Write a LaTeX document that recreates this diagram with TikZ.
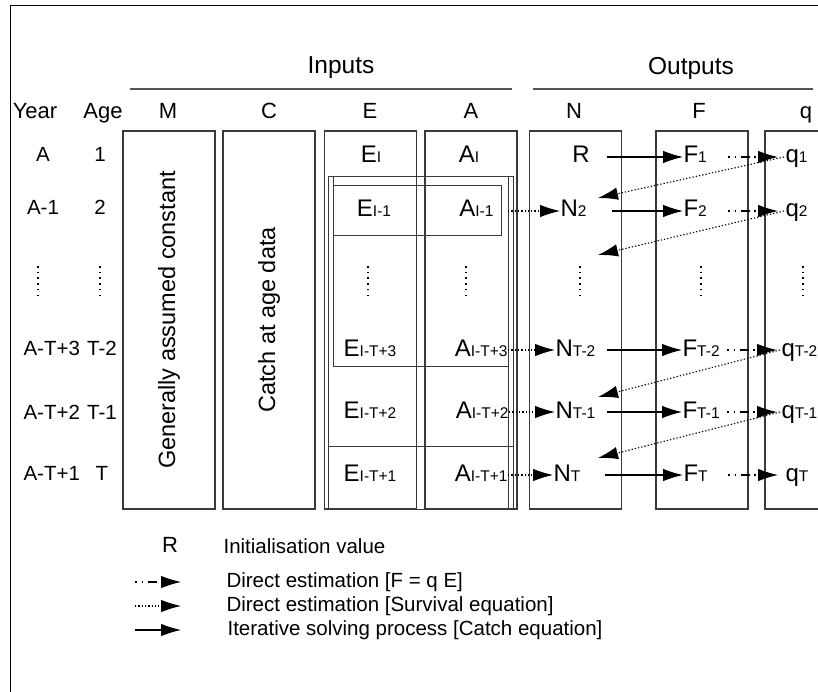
\documentclass[tikz,border=0pt]{standalone}
\usepackage{fontspec}
\setmainfont{Liberation Sans}
\usetikzlibrary{
  calc,
  positioning,
  arrows.meta
}
\tikzset{>={Latex[length=20pt,width=12.5pt]}}
\definecolor{boxgray}{HTML}{3A3A3A}
\definecolor{rulegray}{HTML}{555555}
\newcommand{\sub}[1]{{\fontsize{15.5}{15.5}\selectfont #1}}

\begin{document}
\begin{tikzpicture}[x=1pt, y=-1pt, line width=1.1pt,
  colbox/.style = {rectangle, draw=boxgray, minimum width=92pt, minimum height=378pt, inner sep=0pt},
  title/.style = {font=\fontsize{24.5}{24.5}\selectfont, inner sep=0pt},
  head/.style = {font=\fontsize{22}{22}\selectfont, inner sep=0pt, text height=16pt, text depth=4pt},
  rowlab/.style = {font=\fontsize{20.5}{20.5}\selectfont, inner sep=0pt, text height=15pt, text depth=4pt},
  cell/.style = {font=\fontsize{24}{24}\selectfont, inner sep=0pt, text height=17pt, text depth=5pt},
  ncell/.style = {cell, anchor=west, text width=51pt, align=left},
  fcell/.style = {cell, anchor=west, text width=44pt, align=left},
  qcell/.style = {cell, anchor=west, inner xsep=7pt},
  keytext/.style = {font=\fontsize{20.5}{20.5}\selectfont, inner sep=0pt, anchor=west, text height=15pt, text depth=4pt},
  frame/.style = {draw=boxgray, line width=1pt},
  solve/.style = {->, line width=1.1pt},
  survival/.style = {->, line width=1.1pt, dash pattern=on 1.3pt off 2pt},
  fqest/.style = {->, line width=1.1pt, dash pattern=on 1.5pt off 5pt on 1.5pt off 5pt on 9pt off 4pt},
  vdotsline/.style = {line width=1.6pt, dash pattern=on 1.6pt off 4.1pt}]
        \useasboundingbox (0,0) rectangle (818,692);
        \draw[line width=1pt] (10.5,692) -- (10.5,5.5) -- (818,5.5);

        % titles
        \node[title] (inputs) at (341,68) {Inputs};
        \node[title] (outputs) at (691,68) {Outputs};
        \draw[rulegray] (130,89) -- (512,89);
        \draw[rulegray] (533,89) -- (813,89);

        % column heads
        \node[head] (year_head) at (35,113) {Year};
        \node[head] (age_head) at (103,113) {Age};
        \node[head] (m_head) at (168,113) {M};
        \node[head] (c_head) at (269,113) {C};
        \node[head] (e_head) at (370,113) {E};
        \node[head] (a_head) at (471,113) {A};
        \node[head] (n_head) at (574,113) {N};
        \node[head] (f_head) at (699,113) {F};
        \node[head] (q_head) at (806,113) {q};

        % columns
        \node[colbox] (m_box) at (169,320) {};
        \node[colbox] (c_box) at (269,320) {};
        \node[colbox] (e_box) at (370.5,320) {};
        \node[colbox] (a_box) at (471,320) {};
        \node[colbox] (n_box) at (575.5,320) {};
        \node[colbox] (f_box) at (702,320) {};
        \node[colbox] (q_box) at (811,320) {};
        \node[title, font=\fontsize{23.5}{23.5}\selectfont, rotate=90] (m_text) at (m_box) {Generally assumed constant};
        \node[title, font=\fontsize{23.5}{23.5}\selectfont, rotate=90] (c_text) at (c_box) {Catch at age data};

        % cohort frames
        \draw[frame] (328,177) rectangle (513,509);
        \draw[frame] (333,366) -- (333,177);
        \draw[frame] (333,366) -- (508,366);
        \draw[frame] (508,177) -- (508,509);
        \draw[frame] (333,186) rectangle (501,236);
        \draw[frame] (328,446) -- (513,446);

        % year and age
        \node[rowlab] (year_1) at (43,156) {A};
        \node[rowlab] (year_2) at (43,209) {A-1};
        \node[rowlab, anchor=west] (year_4) at (23,350) {A-T+3};
        \node[rowlab, anchor=west] (year_5) at (23,414) {A-T+2};
        \node[rowlab, anchor=west] (year_6) at (23,475) {A-T+1};
        \node[rowlab] (age_1) at (100,156) {1};
        \node[rowlab] (age_2) at (100,209) {2};
        \node[rowlab] (age_4) at (102,350) {T-2};
        \node[rowlab] (age_5) at (102,414) {T-1};
        \node[rowlab] (age_6) at (102,475) {T};

        % inputs
        \node[cell] (e_1) at (371,157) {E\sub{I}};
        \node[cell] (e_2) at (374,211) {E\sub{I-1}};
        \node[cell] (e_4) at (370,350) {E\sub{I-T+3}};
        \node[cell] (e_5) at (370,412) {E\sub{I-T+2}};
        \node[cell] (e_6) at (370,475) {E\sub{I-T+1}};
        \node[cell] (a_1) at (469,157) {A\sub{I}};
        \node[cell, anchor=east] (a_2) at (494,211) {A\sub{I-1}};
        \node[cell, anchor=east] (a_4) at (508,350) {A\sub{I-T+3}};
        \node[cell, anchor=east] (a_5) at (509,412) {A\sub{I-T+2}};
        \node[cell, anchor=east] (a_6) at (508,475) {A\sub{I-T+1}};

        % outputs
        \node[ncell, align=center] (n_1) at (555,157) {R};
        \node[ncell] (n_2) at (560,211) {N\sub{2}};
        \node[ncell] (n_4) at (555,350) {N\sub{T-2}};
        \node[ncell] (n_5) at (555,412) {N\sub{T-1}};
        \node[ncell] (n_6) at (553,475) {N\sub{T}};
        \node[fcell] (f_1) at (683,157) {F\sub{1}};
        \node[fcell] (f_2) at (683,211) {F\sub{2}};
        \node[fcell] (f_4) at (682,350) {F\sub{T-2}};
        \node[fcell] (f_5) at (682,412) {F\sub{T-1}};
        \node[fcell] (f_6) at (683,475) {F\sub{T}};
        \node[qcell] (q_1) at (778,157) {q\sub{1}};
        \node[qcell] (q_2) at (778,211) {q\sub{2}};
        \node[qcell, inner xsep=4pt] (q_4) at (777,350) {q\sub{T-2}};
        \node[qcell, inner xsep=4pt] (q_5) at (777,412) {q\sub{T-1}};
        \node[qcell] (q_6) at (778,475) {q\sub{T}};

        % vertical dots
        \foreach \x in {38,100,368,466,580,701,803}
          \draw[vdotsline] (\x,266) -- (\x,295);

        % ends of the back arrows
        \coordinate (back_2) at (598,198);
        \coordinate (back_3) at (598,255);
        \coordinate (back_5) at (598,397);
        \coordinate (back_6) at (598,458);

        % connections
        \draw[survival] ([xshift=14pt]a_2.east) -- (n_2.west);
        \draw[survival] (a_4.east) -- (n_4.west);
        \draw[survival] (a_5.east) -- (n_5.west);
        \draw[survival] (a_6.east) -- (n_6.west);
        \foreach \r in {1,2,4,5,6} {
          \draw[solve] (n_\r.east) -- (f_\r.west);
          \draw[fqest] (f_\r.east) -- (q_\r.west);
        }
        \draw[survival] ([xshift=6pt]q_1.west) -- (back_2);
        \draw[survival] ([xshift=6pt]q_2.west) -- (back_3);
        \draw[survival] ([xshift=3pt]q_4.west) -- (back_5);
        \draw[survival] ([xshift=3pt]q_5.west) -- (back_6);

        % key
        \node[cell, font=\fontsize{22}{22}\selectfont] (key_r) at (170,546) {R};
        \node[keytext] (key_init) at (223,548) {Initialisation value};
        \node[keytext] (key_fq) at (226,582) {Direct estimation [F = q E]};
        \node[keytext] (key_surv) at (226,606) {Direct estimation [Survival equation]};
        \node[keytext] (key_solve) at (227,630) {Iterative solving process [Catch equation]};
        \coordinate (key_fq_from) at (135,582);
        \coordinate (key_fq_to) at (181,582);
        \coordinate (key_surv_from) at (135,606);
        \coordinate (key_surv_to) at (181,606);
        \coordinate (key_solve_from) at (135,630);
        \coordinate (key_solve_to) at (181,630);
        \draw[fqest] (key_fq_from) -- (key_fq_to);
        \draw[survival] (key_surv_from) -- (key_surv_to);
        \draw[solve] (key_solve_from) -- (key_solve_to);
\end{tikzpicture}
\end{document}
